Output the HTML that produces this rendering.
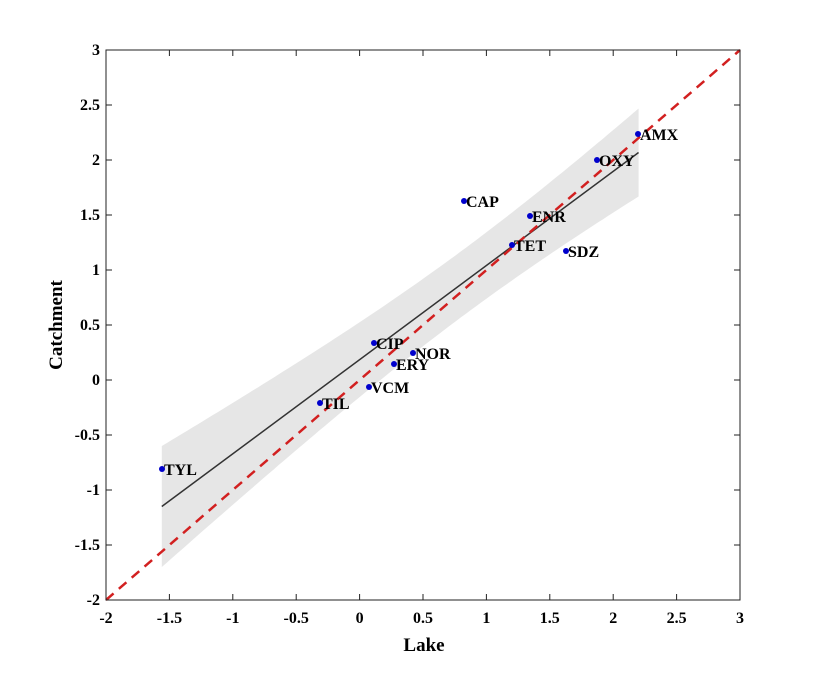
<!DOCTYPE html>
<html><head><meta charset="utf-8"><style>
body{margin:0;background:#fff}
svg text{font-family:"Liberation Serif",serif;font-weight:bold;fill:#000}
</style></head><body>
<svg id="s" width="818" height="674" xmlns="http://www.w3.org/2000/svg"></svg>
<script>
const s=document.getElementById('s');
const X=v=>106+126.8*(v+2), Y=v=>600-110*(v+2);
let h='';
const f=x=>0.856*x+0.185, hw=x=>Math.sqrt(0.09+0.0372*(x-0.83)**2);
let up=[],lo=[];
for(let x=-1.56;x<=2.2001;x+=0.04){up.push(X(x).toFixed(1)+','+Y(f(x)+hw(x)).toFixed(1));lo.unshift(X(x).toFixed(1)+','+Y(f(x)-hw(x)).toFixed(1));}
h+=`<polygon points="${up.concat(lo).join(' ')}" fill="#e6e6e6"/>`;
h+=`<line x1="${X(-1.56)}" y1="${Y(f(-1.56))}" x2="${X(2.2)}" y2="${Y(f(2.2))}" stroke="#333" stroke-width="1.5"/>`;
h+=`<line x1="${X(-2)}" y1="${Y(-2)}" x2="${X(3)}" y2="${Y(3)}" stroke="#d22020" stroke-width="2.5" stroke-dasharray="10,7"/>`;
h+=`<rect x="106" y="50" width="634" height="550" fill="none" stroke="#222" stroke-width="1"/>`;
for(let v=-2;v<=3.001;v+=0.5){
 const x=X(v),y=Y(v),l=(Math.round(v*10)/10).toString();
 h+=`<line x1="${x}" y1="600" x2="${x}" y2="594" stroke="#222"/><line x1="${x}" y1="50" x2="${x}" y2="56" stroke="#222"/>`;
 h+=`<line x1="106" y1="${y}" x2="112" y2="${y}" stroke="#222"/><line x1="740" y1="${y}" x2="734" y2="${y}" stroke="#222"/>`;
 h+=`<text x="${x}" y="623" font-size="16" text-anchor="middle">${l}</text>`;
 h+=`<text x="100" y="${y+5}" font-size="16" text-anchor="end">${l}</text>`;
}
h+=`<text x="424" y="651" font-size="19" text-anchor="middle">Lake</text>`;
h+=`<text transform="translate(62,325) rotate(-90)" font-size="19" text-anchor="middle">Catchment</text>`;
const pts=[["AMX",638,134],["OXY",597,160],["CAP",464,201],["ENR",530,216],["TET",512,245],["SDZ",566,251],["CIP",374,343],["NOR",413,353],["ERY",394,364],["VCM",369,387],["TIL",320,403],["TYL",162,469]];
for(const [n,x,y] of pts){h+=`<circle cx="${x}" cy="${y}" r="3" fill="#0000cc"/><text x="${x+2}" y="${y+6}" font-size="16">${n}</text>`;}
s.innerHTML=h;
</script>
</body></html>
